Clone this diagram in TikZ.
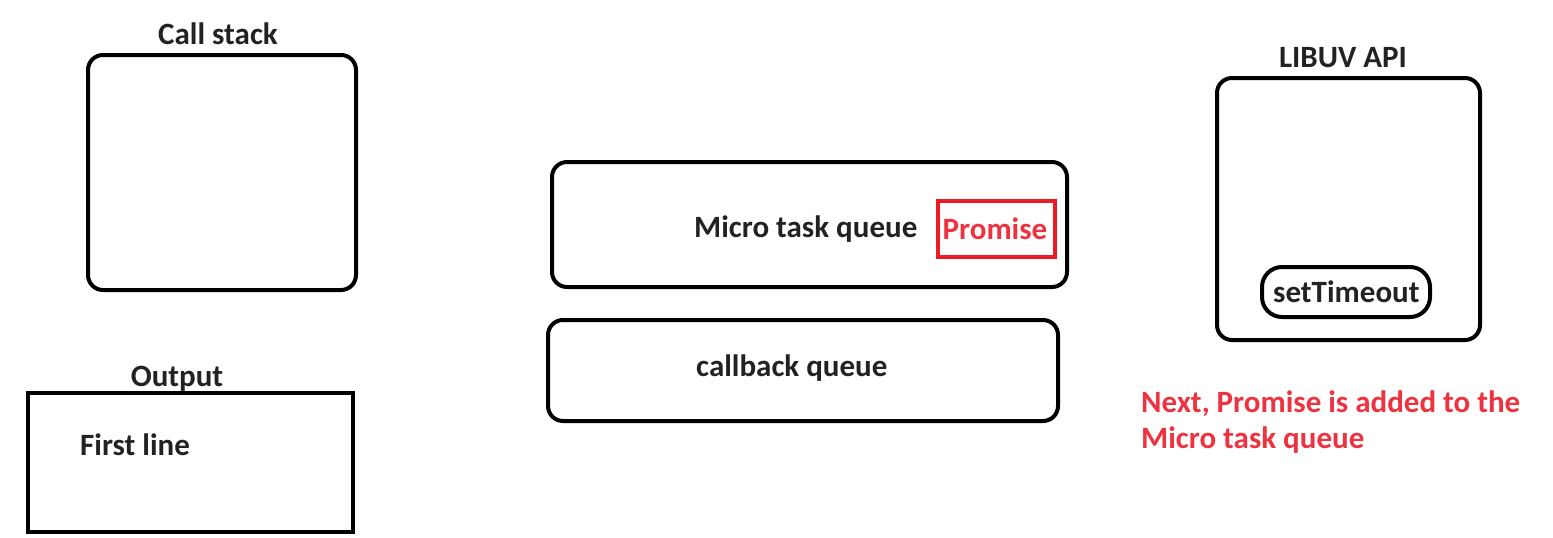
\documentclass[tikz,border=0pt]{standalone}
\usepackage{fontspec}
\setmainfont{Carlito}
\definecolor{txt}{HTML}{222222}
\definecolor{redtxt}{HTML}{EE3340}
\definecolor{redbox}{HTML}{ED1C24}
\begin{document}
\begin{tikzpicture}[x=1pt,y=-1pt,
  box/.style={draw=black,line width=4pt,rounded corners=15pt,inner sep=0pt},
  sqbox/.style={draw=black,line width=4pt,inner sep=0pt},
  lbl/.style={font=\fontsize{31}{36}\selectfont\bfseries,text=txt,inner sep=0pt},
  redlbl/.style={font=\fontsize{31}{36}\selectfont\bfseries,text=redtxt,inner sep=0pt}]
\useasboundingbox (0,0) rectangle (1553,538);
% Call stack
\node[box,minimum width=268pt,minimum height=235pt] (cs) at (222,172.5) {};
\node[lbl] (cst) at (218,34) {Call stack};
% Output
\node[sqbox,minimum width=325pt,minimum height=139pt] (out) at (190.5,462.5) {};
\node[lbl] (outt) at (177,379) {Output};
\node[lbl,anchor=west] (fl) at (80,445) {First line};
% Micro task queue
\node[box,minimum width=515pt,minimum height=125pt] (mq) at (809.5,224.5) {};
\node[lbl,anchor=west] (mqt) at (694,229) {Micro task queue};
\node[draw=redbox,line width=3.5pt,minimum width=117pt,minimum height=56pt,inner sep=0pt] (pb) at (996.5,229) {};
\node[lbl,text=redtxt] (pt) at (995,229) {Promise};
% callback queue
\node[box,minimum width=510pt,minimum height=101pt] (cq) at (803,370.5) {};
\node[lbl,anchor=west] (cqt) at (696,368) {callback queue};
% LIBUV
\node[box,minimum width=263pt,minimum height=262pt] (lib) at (1348.5,209) {};
\node[lbl] (libt) at (1343,58) {LIBUV API};
\node[box,rounded corners=20pt,minimum width=168pt,minimum height=50pt] (st) at (1346,292) {};
\node[lbl,anchor=west] (stt) at (1273,292) {setTimeout};
% note
\node[redlbl,anchor=west,align=left] (note) at (1141,422) {Next, Promise is added to the\\Micro task queue};
\end{tikzpicture}
\end{document}
